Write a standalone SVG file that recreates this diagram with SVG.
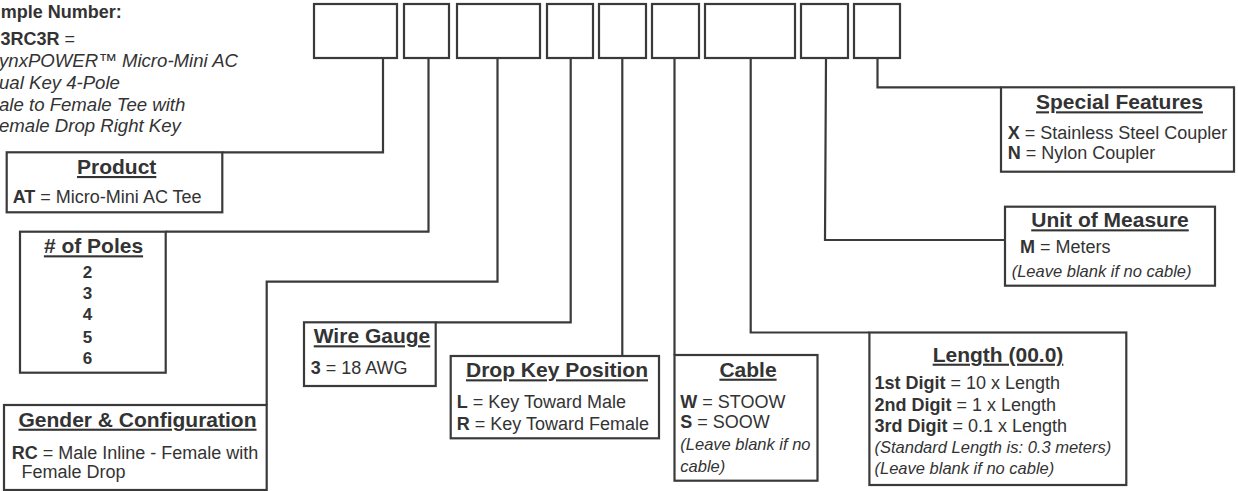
<svg xmlns="http://www.w3.org/2000/svg" width="1238" height="491" viewBox="0 0 1238 491">
<style>
.box{fill:#fff;stroke:#3a3a3a;stroke-width:2.2}
.wire{fill:none;stroke:#3a3a3a;stroke-width:2.2}
text{font-family:"Liberation Sans",Arial,Helvetica,sans-serif;fill:#333}
.title{font-size:21px;font-weight:bold;text-decoration:underline;text-anchor:middle}
.body{font-size:18px}
.b{font-weight:bold}
.note{font-size:16.5px;font-style:italic}
.num{font-size:17px;font-weight:bold;text-anchor:middle}
.ex{font-size:18px;text-anchor:end}
.exi{font-size:18.6px;font-style:italic}
</style>
<rect width="1238" height="491" fill="#fff"/>

<g id="sample">
<text class="ex b" x="121.7" y="18.3">mple Number:</text>
<text class="ex" x="75" y="45"><tspan class="b">3RC3R</tspan> =</text>
<text class="exi" x="-1" y="66.7">ynxPOWER™ Micro-Mini AC</text>
<text class="exi" x="-1" y="89.3">ual Key 4-Pole</text>
<text class="exi" x="-1" y="111">ale to Female Tee with</text>
<text class="exi" x="-1" y="131.7">emale Drop Right Key</text>
</g>

<g id="connectors">
<polyline class="wire" points="383,58 383,152.3 222.3,152.3"/>
<polyline class="wire" points="428.5,58 428.5,231.7 165.7,231.7"/>
<polyline class="wire" points="497.5,58 497.5,281.7 266.7,281.7 266.7,405"/>
<polyline class="wire" points="570.7,58 570.7,322.3 435.7,322.3"/>
<polyline class="wire" points="622.3,58 622.3,356"/>
<polyline class="wire" points="674.5,58 674.5,355"/>
<polyline class="wire" points="750.7,58 750.7,332.5 869.4,332.5"/>
<polyline class="wire" points="826,58 825,240 1005,240"/>
<polyline class="wire" points="877.5,58 877.5,87.3 1001,87.3"/>
</g>

<g id="code-boxes">
<rect class="box" x="314" y="4" width="83" height="54"/>
<rect class="box" x="404" y="4" width="45" height="54"/>
<rect class="box" x="457" y="4" width="83" height="54"/>
<rect class="box" x="547" y="4" width="46" height="54"/>
<rect class="box" x="599" y="4" width="47" height="54"/>
<rect class="box" x="652" y="4" width="47" height="54"/>
<rect class="box" x="705" y="4" width="90" height="54"/>
<rect class="box" x="801" y="4" width="47" height="54"/>
<rect class="box" x="854" y="4" width="46" height="54"/>
</g>

<g id="product">
<rect class="box" x="6.7" y="152.3" width="215.6" height="60"/>
<text class="title" x="116.7" y="174">Product</text>
<text class="body" x="12.7" y="203.3"><tspan class="b">AT</tspan> = Micro-Mini AC Tee</text>
</g>

<g id="poles">
<rect class="box" x="20" y="231.7" width="145.7" height="141"/>
<text class="title" x="93.5" y="253.3"># of Poles</text>
<text class="num" x="87.5" y="278.3">2</text>
<text class="num" x="87.5" y="299.3">3</text>
<text class="num" x="87.5" y="320.3">4</text>
<text class="num" x="87.5" y="343.3">5</text>
<text class="num" x="87.5" y="364">6</text>
</g>

<g id="gender">
<rect class="box" x="4" y="405" width="262.7" height="85"/>
<text class="title" x="137.5" y="426.7">Gender &amp; Configuration</text>
<text class="body" x="11.7" y="459.3"><tspan class="b">RC</tspan> = Male Inline - Female with</text>
<text class="body" x="21.5" y="478">Female Drop</text>
</g>

<g id="wire-gauge">
<rect class="box" x="304" y="322.3" width="131.7" height="63.7"/>
<text class="title" x="372" y="343.3">Wire Gauge</text>
<text class="body" x="310.7" y="374"><tspan class="b">3</tspan> = 18 AWG</text>
</g>

<g id="drop-key">
<rect class="box" x="450.7" y="356" width="208.3" height="82.3"/>
<text class="title" x="557" y="377.3">Drop Key Position</text>
<text class="body" x="456.7" y="408.3"><tspan class="b">L</tspan> = Key Toward Male</text>
<text class="body" x="456.7" y="430"><tspan class="b">R</tspan> = Key Toward Female</text>
</g>

<g id="cable">
<rect class="box" x="674.5" y="355" width="143" height="125.7"/>
<text class="title" x="748" y="376.7">Cable</text>
<text class="body" x="680.3" y="408.3"><tspan class="b">W</tspan> = STOOW</text>
<text class="body" x="680.3" y="428.3"><tspan class="b">S</tspan> = SOOW</text>
<text class="note" x="680.3" y="450">(Leave blank if no</text>
<text class="note" x="680.3" y="471.7">cable)</text>
</g>

<g id="length">
<rect class="box" x="869.4" y="332.5" width="256.9" height="152.5"/>
<text class="title" x="998" y="361.7">Length (00.0)</text>
<text class="body" x="874.5" y="389.3"><tspan class="b">1st Digit</tspan> = 10 x Length</text>
<text class="body" x="874.5" y="410.7"><tspan class="b">2nd Digit</tspan> = 1 x Length</text>
<text class="body" x="874.5" y="431.7"><tspan class="b">3rd Digit</tspan> = 0.1 x Length</text>
<text class="note" x="874.5" y="453.3">(Standard Length is: 0.3 meters)</text>
<text class="note" x="874.5" y="474">(Leave blank if no cable)</text>
</g>

<g id="special-features">
<rect class="box" x="1001" y="87.3" width="233" height="84.4"/>
<text class="title" x="1119.5" y="109.3">Special Features</text>
<text class="body" x="1007.7" y="139.3"><tspan class="b">X</tspan> = Stainless Steel Coupler</text>
<text class="body" x="1007.7" y="159.3"><tspan class="b">N</tspan> = Nylon Coupler</text>
</g>

<g id="unit-of-measure">
<rect class="box" x="1005" y="206.7" width="210" height="79"/>
<text class="title" x="1110" y="227.3">Unit of Measure</text>
<text class="body" x="1020" y="253.3"><tspan class="b">M</tspan> = Meters</text>
<text class="note" x="1011.7" y="276.7">(Leave blank if no cable)</text>
</g>
</svg>
